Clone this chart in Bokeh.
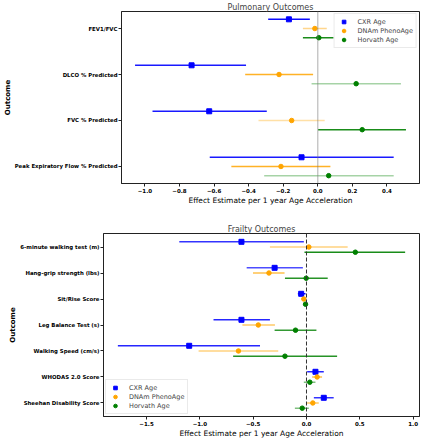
from bokeh.plotting import figure
from bokeh.models import ColumnDataSource, Span, Range1d, FixedTicker, Legend, LegendItem
from bokeh.layouts import column, row
from bokeh.transform import dodge
from bokeh.embed import file_html
from bokeh.resources import INLINE

# ---------------- data ----------------
series_names = ["CXR Age", "DNAm PhenoAge", "Horvath Age"]

pulm_outcomes = ["FEV1/FVC", "DLCO % Predicted", "FVC % Predicted",
                 "Peak Expiratory Flow % Predicted"]
pulm_cxr_est = [-0.167, -0.730, -0.628, -0.094]
pulm_cxr_lo = [-0.287, -1.057, -0.956, -0.625]
pulm_cxr_hi = [-0.046, -0.415, -0.295, 0.439]
pulm_pheno_est = [-0.017, -0.224, -0.151, -0.213]
pulm_pheno_lo = [-0.086, -0.420, -0.343, -0.500]
pulm_pheno_hi = [0.052, -0.027, 0.040, 0.073]
pulm_horv_est = [0.006, 0.222, 0.257, 0.063]
pulm_horv_lo = [-0.086, -0.036, 0.002, -0.310]
pulm_horv_hi = [0.092, 0.481, 0.510, 0.439]

frail_outcomes = ["6-minute walking test (m)", "Hang-grip strength (lbs)",
                  "Sit/Rise Score", "Leg Balance Test (s)", "Walking Speed (cm/s)",
                  "WHODAS 2.0 Score", "Sheehan Disability Score"]
frail_cxr_est = [-0.610, -0.299, -0.050, -0.610, -1.100, 0.084, 0.162]
frail_cxr_lo = [-1.193, -0.561, -0.081, -0.872, -1.769, 0.006, 0.069]
frail_cxr_hi = [-0.025, -0.034, -0.009, -0.343, -0.436, 0.162, 0.255]
frail_pheno_est = [0.022, -0.352, -0.025, -0.452, -0.638, 0.100, 0.059]
frail_pheno_lo = [-0.343, -0.502, -0.040, -0.601, -1.012, 0.053, 0.006]
frail_pheno_hi = [0.386, -0.206, -0.010, -0.296, -0.265, 0.146, 0.115]
frail_horv_est = [0.458, -0.003, -0.009, -0.103, -0.202, 0.031, -0.040]
frail_horv_lo = [-0.019, -0.202, -0.025, -0.299, -0.688, -0.025, -0.109]
frail_horv_hi = [0.925, 0.199, 0.005, 0.093, 0.287, 0.084, 0.022]

pulm_xticks = [-1.0, -0.8, -0.6, -0.4, -0.2, 0.0, 0.2, 0.4]
pulm_xtick_labels = ["\u22121.0", "\u22120.8", "\u22120.6", "\u22120.4", "\u22120.2", "0.0", "0.2", "0.4"]
frail_xticks = [-1.5, -1.0, -0.5, 0.0, 0.5, 1.0]
frail_xtick_labels = ["\u22121.5", "\u22121.0", "\u22120.5", "0.0", "0.5", "1.0"]

# ---------------- styles ----------------
colors = ["#0000ff", "#ffa500", "#008000"]
markers = ["square", "circle", "circle"]
marker_sizes = [5, 4.5, 4.5]
offsets = [-0.2, 0.0, 0.2]
pulm_alpha = [[0.95, 0.9, 0.9, 0.9],
              [0.45, 0.85, 0.35, 0.85],
              [0.9, 0.35, 0.9, 0.35]]
frail_alpha = [[0.8, 0.7, 1.0, 0.85, 0.85, 0.85, 0.8],
               [0.5, 0.7, 1.0, 0.6, 0.5, 0.7, 0.6],
               [0.9, 0.85, 1.0, 0.8, 0.85, 0.5, 0.5]]
FONT = "DejaVu Sans"


def panel(title, outcomes, est, lo, hi, alphas, xticks, xlabels, legend_loc,
          w, h, left, top, bottom, zero_dash, zero_color, zero_width):
    n = len(outcomes)
    all_lo = min(min(l) for l in lo)
    all_hi = max(max(v) for v in hi)
    xm = 0.05 * (all_hi - all_lo)
    ym = 0.05 * (n - 1 + 0.4)
    p = figure(width=w, height=h, output_backend="svg", toolbar_location=None,
               x_range=Range1d(all_lo - xm, all_hi + xm),
               y_range=Range1d(n - 1 + 0.2 + ym, -0.2 - ym),
               min_border_left=left, min_border_right=2,
               min_border_top=top, min_border_bottom=bottom)
    p.grid.visible = False
    p.outline_line_color = "#222222"
    p.outline_line_width = 1
    p.background_fill_color = "white"
    p.border_fill_color = "white"

    p.title.text = title
    p.title.align = "center"
    p.title.text_font = FONT
    p.title.text_font_size = "8px"
    p.title.text_font_style = "normal"
    p.title.standoff = 0

    p.add_layout(Span(location=0, dimension="height", line_color=zero_color,
                      line_dash=zero_dash, line_width=zero_width))

    items = []
    for k in range(3):
        src = ColumnDataSource(dict(idx=list(range(n)), est=est[k], lo=lo[k],
                                    hi=hi[k], a=alphas[k]))
        p.segment(x0="lo", x1="hi", y0=dodge("idx", offsets[k]),
                  y1=dodge("idx", offsets[k]), source=src,
                  line_color=colors[k], line_alpha="a", line_width=1.5)
        r = p.scatter(x="est", y=dodge("idx", offsets[k]), source=src,
                      marker=markers[k], size=marker_sizes[k],
                      fill_color=colors[k], line_color=colors[k])
        items.append(LegendItem(label=series_names[k], renderers=[r]))

    leg = Legend(items=items, location=legend_loc)
    leg.label_text_font = FONT
    leg.label_text_font_size = "6.5px"
    leg.glyph_width = 12
    leg.glyph_height = 9
    leg.label_height = 9
    leg.label_standoff = 8
    leg.spacing = 0
    leg.padding = 3
    leg.margin = 2
    leg.border_line_color = "#d6d6d6"
    leg.background_fill_alpha = 0.85
    p.add_layout(leg)

    p.xaxis.ticker = FixedTicker(ticks=xticks)
    p.xaxis.major_label_overrides = {t: l for t, l in zip(xticks, xlabels)}
    p.yaxis.ticker = FixedTicker(ticks=list(range(n)))
    p.yaxis.major_label_overrides = {i: o for i, o in enumerate(outcomes)}
    for ax in (p.xaxis, p.yaxis):
        ax.minor_tick_line_color = None
        ax.major_tick_in = 0
        ax.major_tick_out = 3
        ax.major_label_text_font = FONT
        ax.major_label_text_font_style = "bold"
        ax.major_label_text_color = "black"
        ax.axis_line_color = "#222222"
        ax.major_tick_line_color = "#222222"
        ax.axis_label_text_font = FONT
        ax.axis_label_text_color = "black"
    p.xaxis.major_label_text_font_size = "5.5px"
    p.yaxis.major_label_text_font_size = "5.4px"
    p.xaxis.major_label_standoff = 1
    p.yaxis.major_label_standoff = 1
    p.xaxis.axis_label = "Effect Estimate per 1 year Age Acceleration"
    p.xaxis.axis_label_text_font_size = "7.5px"
    p.xaxis.axis_label_text_font_style = "normal"
    p.xaxis.axis_label_standoff = 0
    p.yaxis.axis_label = "Outcome"
    p.yaxis.axis_label_text_font_size = "7px"
    p.yaxis.axis_label_text_font_style = "bold"
    p.yaxis.axis_label_standoff = 0
    return p


p1 = panel("Pulmonary Outcomes", pulm_outcomes,
           [pulm_cxr_est, pulm_pheno_est, pulm_horv_est],
           [pulm_cxr_lo, pulm_pheno_lo, pulm_horv_lo],
           [pulm_cxr_hi, pulm_pheno_hi, pulm_horv_hi],
           pulm_alpha, pulm_xticks, pulm_xtick_labels, "top_right",
           421, 210, 121, 10, 27, "1 1", "#777777", 1.2)
p2 = panel("Frailty Outcomes", frail_outcomes,
           [frail_cxr_est, frail_pheno_est, frail_horv_est],
           [frail_cxr_lo, frail_pheno_lo, frail_horv_lo],
           [frail_cxr_hi, frail_pheno_hi, frail_horv_hi],
           frail_alpha, frail_xticks, frail_xtick_labels, "bottom_left",
           421, 230, 103, 23, 23, "4 2", "#333333", 1)

layout = column(row(p1), row(p2), spacing=0)
open("out.html", "w").write(file_html(layout, INLINE))
